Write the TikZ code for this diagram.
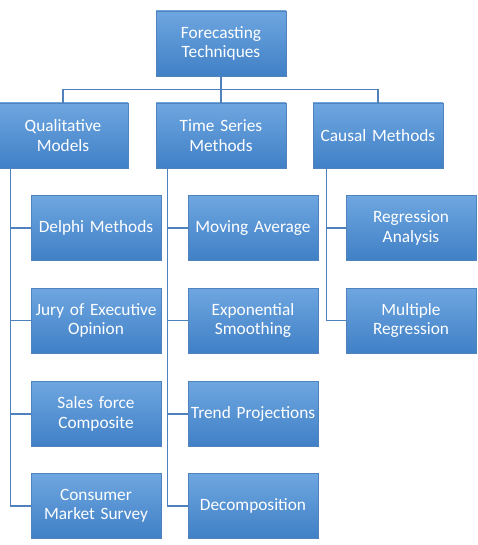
\documentclass[tikz,border=0pt]{standalone}
\usepackage{fontspec}
\setmainfont{Carlito}
\usetikzlibrary{positioning,calc}
\definecolor{boxtop}{RGB}{110,166,224}
\definecolor{boxbot}{RGB}{64,128,198}
\definecolor{boxedge}{RGB}{80,130,190}
\definecolor{linec}{RGB}{79,129,189}
\tikzset{
  box/.style={rectangle, top color=boxtop, bottom color=boxbot, draw=boxedge, line width=0.6pt,
    minimum width=130pt, minimum height=65pt, text width=129pt, inner sep=0pt, align=center,
    text=white, font=\fontsize{17.3}{19.5}\selectfont},
  conn/.style={draw=linec, line width=1.3pt}
}
\begin{document}
\begin{tikzpicture}[x=1pt,y=-1pt]
\useasboundingbox (0,0) rectangle (478,545);
\node[box] (top) at (221,43.5) {Forecasting\\Techniques};
\node[box] (qual) at (63,135.5) {Qualitative\\Models};
\node[box] (time) at (221,135.5) {Time Series\\Methods};
\node[box] (causal) at (378,135.5) {Causal Methods};
\node[box] (delphi) at (96,228) {Delphi Methods};
\node[box] (jury) at (96,320.5) {Jury of Executive\\Opinion};
\node[box] (sales) at (96,414) {Sales force\\Composite};
\node[box] (consumer) at (96,506) {Consumer\\Market Survey};
\node[box] (moving) at (253,228) {Moving Average};
\node[box] (expo) at (253,320.5) {Exponential\\Smoothing};
\node[box] (trend) at (253,414) {Trend Projections};
\node[box] (decomp) at (253,506) {Decomposition};
\node[box] (regr) at (411,228) {Regression\\Analysis};
\node[box] (multi) at (411,320.5) {Multiple\\Regression};
\coordinate (hub) at ($(top.south)+(0,13)$);
\coordinate (qa) at ($(qual.south west)+(13,0)$);
\coordinate (ta) at ($(time.south west)+(12,0)$);
\coordinate (ca) at ($(causal.south west)+(14,0)$);
\draw[conn] (top.south) -- (hub);
\draw[conn] (hub) -| (qual.north);
\draw[conn] (hub) -| (causal.north);
\draw[conn] (hub) -- (time.north);
\draw[conn] (qa) |- (delphi.west);
\draw[conn] (qa) |- (jury.west);
\draw[conn] (qa) |- (sales.west);
\draw[conn] (qa) |- (consumer.west);
\draw[conn] (ta) |- (moving.west);
\draw[conn] (ta) |- (expo.west);
\draw[conn] (ta) |- (trend.west);
\draw[conn] (ta) |- (decomp.west);
\draw[conn] (ca) |- (regr.west);
\draw[conn] (ca) |- (multi.west);
\end{tikzpicture}
\end{document}
